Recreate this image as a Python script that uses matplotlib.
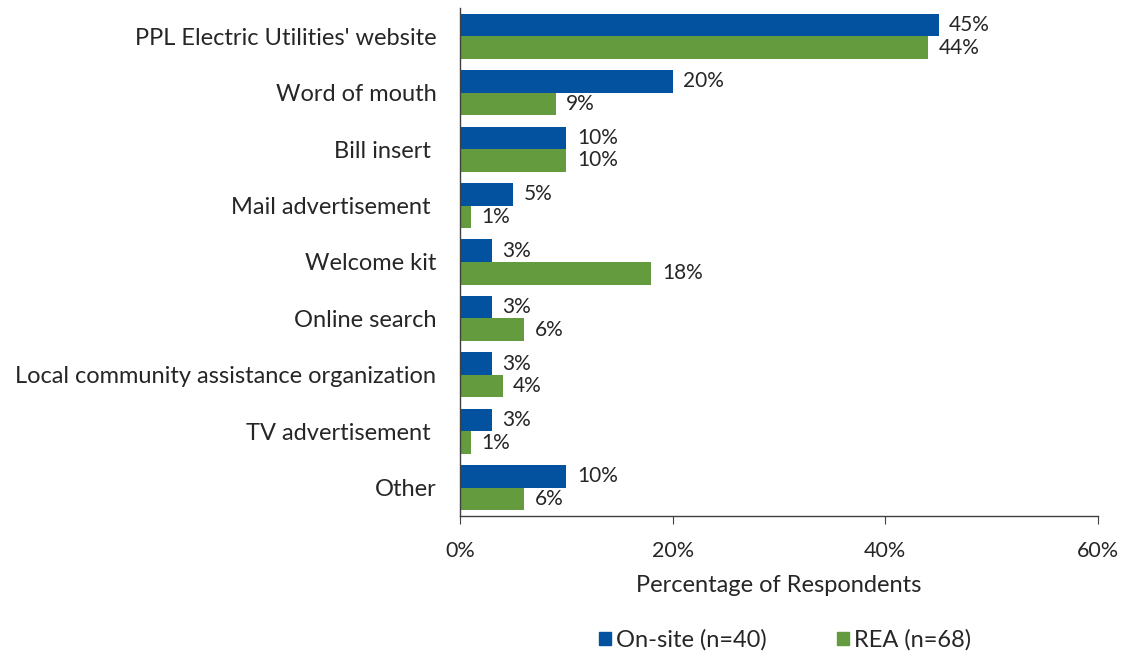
import matplotlib
matplotlib.use("Agg")
import matplotlib.pyplot as plt
import numpy as np

categories = [
    "PPL Electric Utilities' website",
    "Word of mouth",
    "Bill insert ",
    "Mail advertisement ",
    "Welcome kit",
    "Online search",
    "Local community assistance organization",
    "TV advertisement ",
    "Other",
]
onsite = [45, 20, 10, 5, 3, 3, 3, 3, 10]
rea = [44, 9, 10, 1, 18, 6, 4, 1, 6]
series_names = ["On-site (n=40)", "REA (n=68)"]
xticks = [0, 20, 40, 60]

plt.rcParams['font.family'] = ['Lato', 'DejaVu Sans']

blue = "#0352A0"
green = "#659B3F"
text_color = "#262626"

fig = plt.figure(figsize=(11.34, 6.57), dpi=100)
ax = fig.add_axes([460 / 1134, 1 - 516 / 657, (1098 - 460) / 1134, (516 - 8) / 657])

y = np.arange(len(categories))
h = 0.4
b1 = ax.barh(y - h / 2, onsite, height=h, color=blue)
b2 = ax.barh(y + h / 2, rea, height=h, color=green)

for bars, vals in ((b1, onsite), (b2, rea)):
    for bar, v in zip(bars, vals):
        ax.text(v + 1.0, bar.get_y() + bar.get_height() / 2, f"{v}%",
                va="center", ha="left", fontsize=15, color=text_color)

ax.set_ylim(len(categories) - 0.5, -0.5)
ax.set_xlim(0, 60)
ax.set_yticks(y)
ax.set_yticklabels(categories, fontsize=17, color=text_color)
ax.tick_params(axis="y", length=0, pad=17)
ax.set_xticks(xticks)
ax.set_xticklabels([f"{t}%" for t in xticks], fontsize=15.5, color=text_color)
ax.tick_params(axis="x", length=6, direction="out", pad=12, color="#404040")
ax.set_xlabel("Percentage of Respondents", fontsize=17, color=text_color, labelpad=10)

for s in ("top", "right"):
    ax.spines[s].set_visible(False)
for s in ("left", "bottom"):
    ax.spines[s].set_color("#404040")
    ax.spines[s].set_linewidth(1.0)

handles = [plt.Rectangle((0, 0), 1, 1, color=blue), plt.Rectangle((0, 0), 1, 1, color=green)]
fig.legend(handles, series_names, loc="center", bbox_to_anchor=(785 / 1134, 1 - 640 / 657),
           ncol=2, frameon=False, fontsize=17, handlelength=0.5, handleheight=0.5,
           handletextpad=0.2, columnspacing=3.0, labelcolor=text_color)

fig.savefig("out.png", dpi=100)
